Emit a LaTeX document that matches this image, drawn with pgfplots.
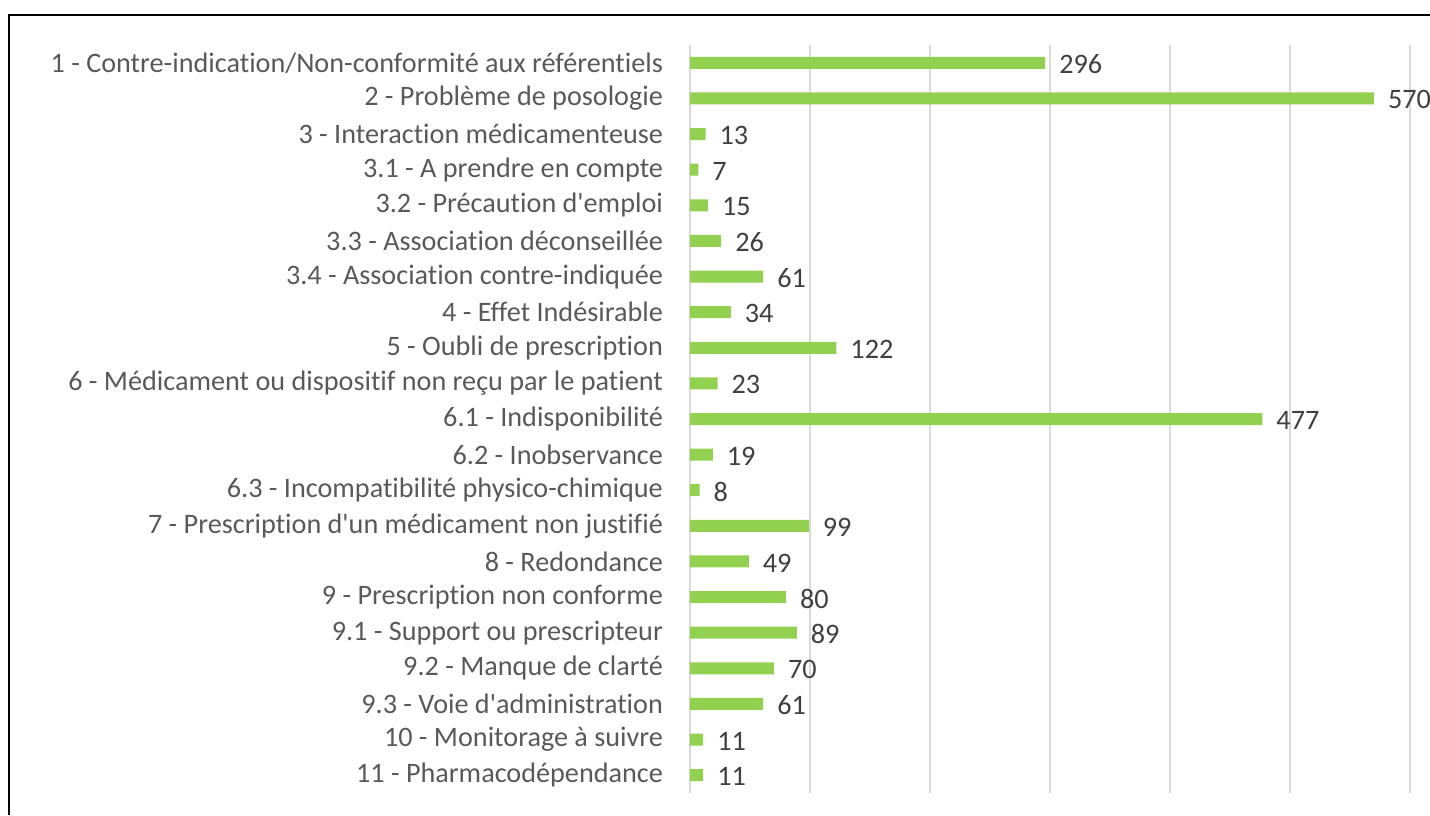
\documentclass[border=0pt]{standalone}
\usepackage{pgfplots}
\pgfplotsset{compat=1.18}
\usepackage{fontspec}
\setmainfont{Carlito}[Ligatures={NoCommon}]
\definecolor{barg}{HTML}{92D050}
\definecolor{lblg}{HTML}{595959}
\definecolor{valg}{HTML}{404040}
\definecolor{gridg}{HTML}{D9D9D9}
\begin{document}
\begin{tikzpicture}
\path[use as bounding box] (0,0) rectangle (715pt,407.5pt);
\draw[black, line width=1pt] (4.5pt,0) -- (4.5pt,400pt) -- (720pt,400pt);
\begin{axis}[
  at={(345pt,11pt)}, anchor=south west,
  scale only axis, width=360pt, height=374pt,
  xmin=0, xmax=600, ymin=-0.5, ymax=20.5,
  y dir=reverse,
  xbar, bar width=6pt,
  axis line style={draw=none},
  xtick={0,100,...,600}, xticklabels={},
  xmajorgrids, major grid style={gridg, line width=0.75pt},
  major tick length=0pt,
  /pgf/number format/assume math mode=true,
  ytick={0,...,20},
  yticklabels={{1 - Contre-indication/Non-conformité aux référentiels},
    {2 - Problème de posologie},
    {3 - Interaction médicamenteuse},
    {3.1 - A prendre en compte},
    {3.2 - Précaution d\textquotesingle emploi},
    {3.3 - Association déconseillée},
    {3.4 - Association contre-indiquée},
    {4 - Effet Indésirable},
    {5 - Oubli de prescription},
    {6 - Médicament ou dispositif non reçu par le patient},
    {6.1 - Indisponibilité},
    {6.2 - Inobservance},
    {6.3 - Incompatibilité physico-chimique},
    {7 - Prescription d\textquotesingle un médicament non justifié},
    {8 - Redondance},
    {9 - Prescription non conforme},
    {9.1 - Support ou prescripteur},
    {9.2 - Manque de clarté},
    {9.3 - Voie d\textquotesingle administration},
    {10 - Monitorage à suivre},
    {11 - Pharmacodépendance}},
  yticklabel style={font=\fontsize{14.1pt}{16pt}\selectfont, text=lblg, xshift=-10pt},
  nodes near coords,
  nodes near coords align={horizontal},
  every node near coord/.append style={font=\fontsize{14.1pt}{16pt}\selectfont, text=valg, anchor=west, xshift=3.5pt, yshift=-0.7pt},
  clip=false,
]
\addplot[draw=none, fill=barg] coordinates {
  (296,0) (570,1) (13,2) (7,3) (15,4) (26,5) (61,6) (34,7) (122,8) (23,9)
  (477,10) (19,11) (8,12) (99,13) (49,14) (80,15) (89,16) (70,17) (61,18) (11,19) (11,20)
};
\end{axis}
\end{tikzpicture}
\end{document}
